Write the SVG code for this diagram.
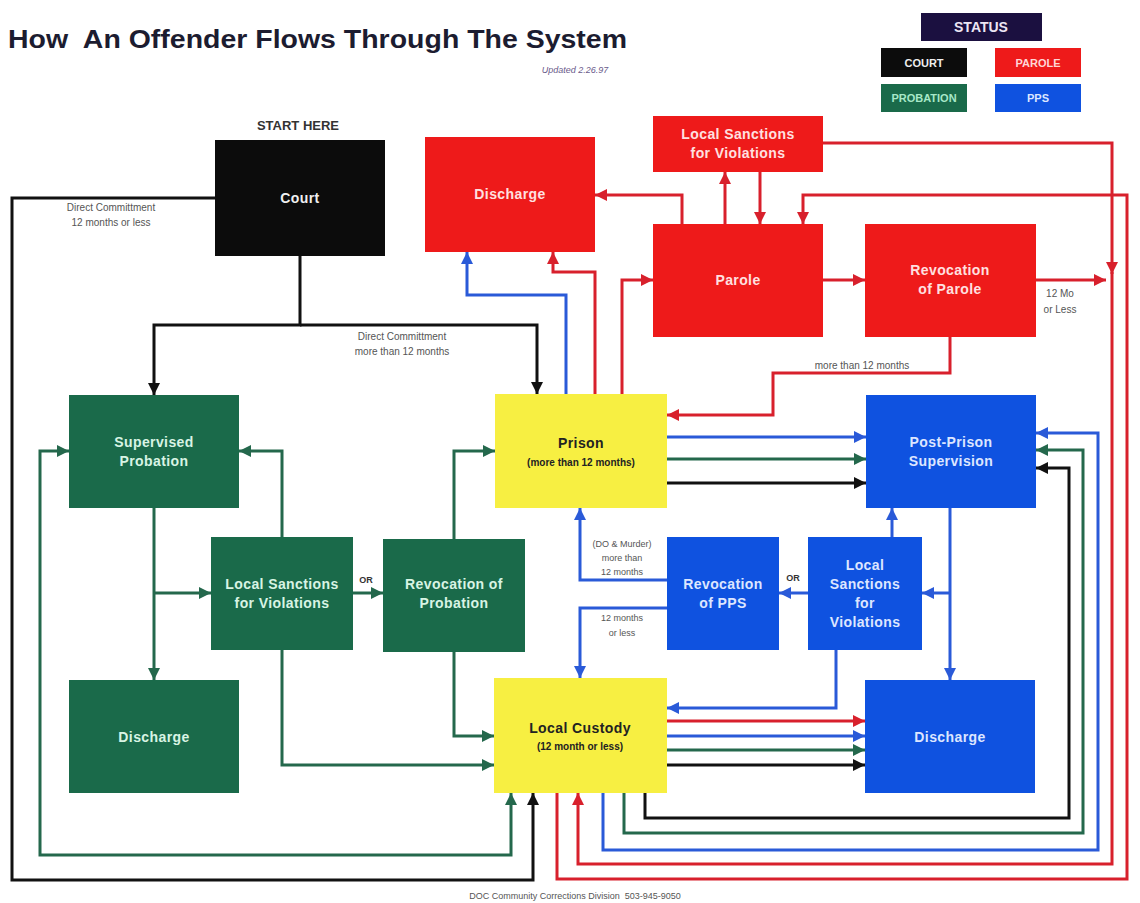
<svg xmlns="http://www.w3.org/2000/svg" width="1140" height="903" viewBox="0 0 1140 903">
<style>
text{font-family:"Liberation Sans",Arial,sans-serif}
.lbl{font-weight:bold;font-size:14px;text-anchor:middle;letter-spacing:0.4px}
.sub{font-weight:bold;font-size:10px;text-anchor:middle}
.note{font-size:10px;fill:#555;text-anchor:middle}
.sm{font-size:9px;fill:#555;text-anchor:middle}
.or{font-size:9px;font-weight:bold;fill:#333;text-anchor:middle}
.c{fill:none;stroke-width:3;stroke-linejoin:miter}
.k{stroke:#111}.b{stroke:#2a5ad8}.g{stroke:#24684c}.r{stroke:#d8202c}
.red{fill:#ee1a1a}.grn{fill:#1a6a4a}.blu{fill:#0f52e0}.yel{fill:#f7ef42}.blk{fill:#0c0c0c}
.tr{fill:#ffe0e0}.tg{fill:#d8f4e4}.tb{fill:#dde6ff}.ty{fill:#222}
</style>
<defs>
<marker id="mk" viewBox="0 0 12 12" refX="12" refY="6" markerWidth="12" markerHeight="12" markerUnits="userSpaceOnUse" orient="auto-start-reverse"><path d="M0,0 L12,6 L0,12 z" fill="#111"/></marker>
<marker id="mb" viewBox="0 0 12 12" refX="12" refY="6" markerWidth="12" markerHeight="12" markerUnits="userSpaceOnUse" orient="auto-start-reverse"><path d="M0,0 L12,6 L0,12 z" fill="#2a5ad8"/></marker>
<marker id="mg" viewBox="0 0 12 12" refX="12" refY="6" markerWidth="12" markerHeight="12" markerUnits="userSpaceOnUse" orient="auto-start-reverse"><path d="M0,0 L12,6 L0,12 z" fill="#24684c"/></marker>
<marker id="mr" viewBox="0 0 12 12" refX="12" refY="6" markerWidth="12" markerHeight="12" markerUnits="userSpaceOnUse" orient="auto-start-reverse"><path d="M0,0 L12,6 L0,12 z" fill="#d8202c"/></marker>
</defs>
<rect width="1140" height="903" fill="#fff"/>

<g id="title">
<text x="8" y="48" font-size="26" font-weight="bold" fill="#1c1c30" textLength="619" lengthAdjust="spacingAndGlyphs" style="white-space:pre">How  An Offender Flows Through The System</text>
<text x="575" y="73" font-size="9" font-style="italic" fill="#6a5a8a" text-anchor="middle">Updated 2.26.97</text>
</g>

<g id="legend">
<rect x="921" y="13" width="121" height="28" fill="#1b1040"/>
<text x="981" y="32" font-size="14" font-weight="bold" fill="#ece6f4" text-anchor="middle">STATUS</text>
<rect x="881" y="48" width="86" height="29" class="blk"/>
<text x="924" y="67" font-size="11" font-weight="bold" fill="#eee" text-anchor="middle">COURT</text>
<rect x="995" y="48" width="86" height="29" class="red"/>
<text x="1038" y="67" font-size="11" font-weight="bold" fill="#ffd6d6" text-anchor="middle">PAROLE</text>
<rect x="881" y="84" width="86" height="28" class="grn"/>
<text x="924" y="102" font-size="11" font-weight="bold" fill="#a8e8c8" text-anchor="middle">PROBATION</text>
<rect x="995" y="84" width="86" height="28" class="blu"/>
<text x="1038" y="102" font-size="11" font-weight="bold" fill="#dde6ff" text-anchor="middle">PPS</text>
</g>

<g id="connectors">
<!-- black -->
<path class="c k" d="M215,198 H12 V880 H533 V793" marker-end="url(#mk)"/>
<path class="c k" d="M300,256 V325 H154 V395" marker-end="url(#mk)"/>
<path class="c k" d="M300,325 H537 V394" marker-end="url(#mk)"/>
<path class="c k" d="M667,483 H866" marker-end="url(#mk)"/>
<path class="c k" d="M667,765 H865" marker-end="url(#mk)"/>
<path class="c k" d="M645,793 V818 H1069 V468 H1036" marker-end="url(#mk)"/>
<!-- blue -->
<path class="c b" d="M566,394 V295 H467 V252" marker-end="url(#mb)"/>
<path class="c b" d="M667,437 H866" marker-end="url(#mb)"/>
<path class="c b" d="M667,736 H865" marker-end="url(#mb)"/>
<path class="c b" d="M603,793 V850 H1098 V433 H1036" marker-end="url(#mb)"/>
<path class="c b" d="M950,508 V680" marker-end="url(#mb)"/>
<path class="c b" d="M950,593 H922" marker-end="url(#mb)"/>
<path class="c b" d="M892,537 V508" marker-end="url(#mb)"/>
<path class="c b" d="M808,593 H779" marker-end="url(#mb)"/>
<path class="c b" d="M836,650 V708 H667" marker-end="url(#mb)"/>
<path class="c b" d="M667,580 H580 V508" marker-end="url(#mb)"/>
<path class="c b" d="M667,608 H580 V678" marker-end="url(#mb)"/>
<!-- green -->
<path class="c g" d="M154,508 V680" marker-end="url(#mg)"/>
<path class="c g" d="M154,593 H211" marker-end="url(#mg)"/>
<path class="c g" d="M353,593 H383" marker-end="url(#mg)"/>
<path class="c g" d="M282,537 V451 H239" marker-end="url(#mg)"/>
<path class="c g" d="M454,539 V451 H495" marker-end="url(#mg)"/>
<path class="c g" d="M282,650 V765 H494" marker-end="url(#mg)"/>
<path class="c g" d="M454,652 V736 H494" marker-end="url(#mg)"/>
<path class="c g" d="M69,451 H40 V855 H511 V793" marker-start="url(#mg)" marker-end="url(#mg)"/>
<path class="c g" d="M667,459 H866" marker-end="url(#mg)"/>
<path class="c g" d="M667,750 H865" marker-end="url(#mg)"/>
<path class="c g" d="M624,793 V833 H1083 V450 H1036" marker-end="url(#mg)"/>
<!-- red -->
<path class="c r" d="M595,394 V272 H553 V252" marker-end="url(#mr)"/>
<path class="c r" d="M622,394 V280 H653" marker-end="url(#mr)"/>
<path class="c r" d="M682,224 V195 H595" marker-end="url(#mr)"/>
<path class="c r" d="M725,224 V172" marker-end="url(#mr)"/>
<path class="c r" d="M760,172 V224" marker-end="url(#mr)"/>
<path class="c r" d="M823,280 H865" marker-end="url(#mr)"/>
<path class="c r" d="M1036,280 H1106" marker-end="url(#mr)"/>
<path class="c r" d="M823,143 H1112 V274" marker-end="url(#mr)"/>
<path class="c r" d="M1112,272 V864 H578 V793" marker-end="url(#mr)"/>
<path class="c r" d="M557,793 V879 H1127 V195 H803 V224" marker-end="url(#mr)"/>
<path class="c r" d="M950,337 V373 H773 V415 H667" marker-end="url(#mr)"/>
<path class="c r" d="M667,721 H865" marker-end="url(#mr)"/>
</g>

<g id="labels">
<text x="298" y="130" font-size="13" font-weight="bold" fill="#333" text-anchor="middle">START HERE</text>
<text x="111" y="211" class="note">Direct Committment</text>
<text x="111" y="226" class="note">12 months or less</text>
<text x="402" y="340" class="note">Direct Committment</text>
<text x="402" y="355" class="note">more than 12 months</text>
<text x="862" y="369" class="note">more than 12 months</text>
<text x="1060" y="297" class="note">12 Mo</text>
<text x="1060" y="313" class="note">or Less</text>
<text x="622" y="547" class="sm">(DO &amp; Murder)</text>
<text x="622" y="561" class="sm">more than</text>
<text x="622" y="575" class="sm">12 months</text>
<text x="622" y="621" class="sm">12 months</text>
<text x="622" y="636" class="sm">or less</text>
<text x="366" y="583" class="or">OR</text>
<text x="793" y="581" class="or">OR</text>
<text x="575" y="899" class="sm" style="white-space:pre">DOC Community Corrections Division  503-945-9050</text>
</g>

<g id="court"><rect x="215" y="140" width="170" height="116" class="blk"/><text x="300" y="203" class="lbl" fill="#f0f0f0">Court</text></g>
<g id="discharge-parole"><rect x="425" y="137" width="170" height="115" class="red"/><text x="510" y="199" class="lbl tr">Discharge</text></g>
<g id="local-sanctions-parole"><rect x="653" y="116" width="170" height="56" class="red"/><text x="738" y="139" class="lbl tr">Local Sanctions</text><text x="738" y="158" class="lbl tr">for Violations</text></g>
<g id="parole"><rect x="653" y="224" width="170" height="113" class="red"/><text x="738" y="285" class="lbl tr">Parole</text></g>
<g id="revocation-parole"><rect x="865" y="224" width="171" height="113" class="red"/><text x="950" y="275" class="lbl tr">Revocation</text><text x="950" y="294" class="lbl tr">of Parole</text></g>
<g id="supervised-probation"><rect x="69" y="395" width="170" height="113" class="grn"/><text x="154" y="447" class="lbl tg">Supervised</text><text x="154" y="466" class="lbl tg">Probation</text></g>
<g id="local-sanctions-probation"><rect x="211" y="537" width="142" height="113" class="grn"/><text x="282" y="589" class="lbl tg">Local Sanctions</text><text x="282" y="608" class="lbl tg">for Violations</text></g>
<g id="revocation-probation"><rect x="383" y="539" width="142" height="113" class="grn"/><text x="454" y="589" class="lbl tg">Revocation of</text><text x="454" y="608" class="lbl tg">Probation</text></g>
<g id="discharge-probation"><rect x="69" y="680" width="170" height="113" class="grn"/><text x="154" y="742" class="lbl tg">Discharge</text></g>
<g id="prison"><rect x="495" y="394" width="172" height="114" class="yel"/><text x="581" y="448" class="lbl ty">Prison</text><text x="581" y="466" class="sub ty">(more than 12 months)</text></g>
<g id="local-custody"><rect x="494" y="678" width="173" height="115" class="yel"/><text x="580" y="733" class="lbl ty">Local Custody</text><text x="580" y="750" class="sub ty">(12 month or less)</text></g>
<g id="post-prison-supervision"><rect x="866" y="395" width="170" height="113" class="blu"/><text x="951" y="447" class="lbl tb">Post-Prison</text><text x="951" y="466" class="lbl tb">Supervision</text></g>
<g id="revocation-pps"><rect x="667" y="537" width="112" height="113" class="blu"/><text x="723" y="589" class="lbl tb">Revocation</text><text x="723" y="608" class="lbl tb">of PPS</text></g>
<g id="local-sanctions-pps"><rect x="808" y="537" width="114" height="113" class="blu"/><text x="865" y="570" class="lbl tb">Local</text><text x="865" y="589" class="lbl tb">Sanctions</text><text x="865" y="608" class="lbl tb">for</text><text x="865" y="627" class="lbl tb">Violations</text></g>
<g id="discharge-pps"><rect x="865" y="680" width="170" height="113" class="blu"/><text x="950" y="742" class="lbl tb">Discharge</text></g>
</svg>
